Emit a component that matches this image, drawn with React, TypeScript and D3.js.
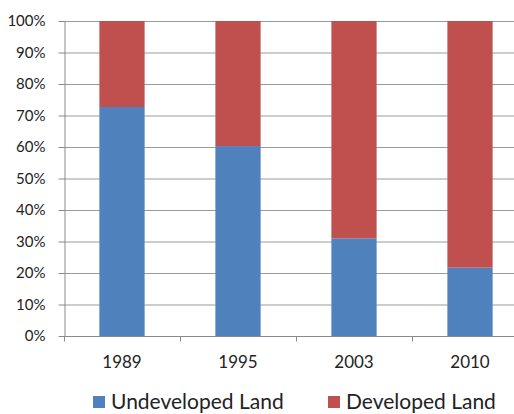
import { useEffect, useRef } from 'react';
import * as d3 from 'd3';

const YEARS = ['1989', '1995', '2003', '2010'];
const UNDEVELOPED = [72.7, 60.3, 31.0, 21.7];
const DEVELOPED = [27.3, 39.7, 69.0, 78.3];
const Y_TICKS = [0, 10, 20, 30, 40, 50, 60, 70, 80, 90, 100];
const SERIES_LABELS = ['Undeveloped Land', 'Developed Land'];

const WIDTH = 514;
const HEIGHT = 414;
const PLOT = { left: 64, right: 528, top: 21, bottom: 336 };
const COLOURS = ['#4F81BD', '#C0504D'];
const FONT = 'Lato, "Open Sans", sans-serif';

export default function App() {
  const svgRef = useRef<SVGSVGElement>(null);

  useEffect(() => {
    if (!svgRef.current) return;
    const svg = d3.select(svgRef.current);
    svg.selectAll('*').remove();

    const x = d3.scaleBand<string>()
      .domain(YEARS)
      .range([PLOT.left, PLOT.right])
      .paddingInner(0.61)
      .paddingOuter(0.305);

    const y = d3.scaleLinear()
      .domain([0, 100])
      .range([PLOT.bottom, PLOT.top]);

    // grid
    svg.append('g')
      .selectAll('line')
      .data(Y_TICKS.slice(1))
      .join('line')
      .attr('x1', PLOT.left)
      .attr('x2', WIDTH)
      .attr('y1', d => y(d) + 0.5)
      .attr('y2', d => y(d) + 0.5)
      .attr('stroke', '#9a9a9a')
      .attr('stroke-width', 1);

    // stacked bars
    const rows = YEARS.map((year, i) => ({ year, u: UNDEVELOPED[i], d: DEVELOPED[i] }));
    const stack = d3.stack<{ year: string; u: number; d: number }>().keys(['u', 'd']);
    const layers = stack(rows);

    layers.forEach((layer, li) => {
      svg.append('g')
        .selectAll('rect')
        .data(layer)
        .join('rect')
        .attr('x', d => x(d.data.year)!)
        .attr('width', x.bandwidth())
        .attr('y', d => y(d[1]))
        .attr('height', d => y(d[0]) - y(d[1]))
        .attr('fill', COLOURS[li]);
    });

    // y axis
    const yAxis = svg.append('g')
      .attr('transform', `translate(${PLOT.left + 0.5},0)`)
      .call(d3.axisLeft(y).tickValues(Y_TICKS).tickSize(6).tickSizeOuter(0).tickFormat(d => `${d}%`))
      .call(g => g.select('.domain').attr('stroke', '#8a8a8a'));
    yAxis.selectAll('.tick line').attr('stroke', '#8a8a8a');
    yAxis.selectAll('.tick text')
      .attr('x', -19)
      .attr('font-family', FONT)
      .attr('font-size', 15)
      .attr('fill', '#222');
    yAxis.selectAll('.tick').attr('transform', d => `translate(0,${y(d as number) + 0.5})`);

    // x axis
    const xAxis = svg.append('g')
      .attr('transform', `translate(0,${PLOT.bottom + 0.5})`);
    xAxis.append('line')
      .attr('x1', PLOT.left)
      .attr('x2', WIDTH)
      .attr('stroke', '#8a8a8a');
    const step = x.step();
    const tickXs = d3.range(YEARS.length + 1).map(i => PLOT.left + i * step);
    xAxis.selectAll('line.tk')
      .data(tickXs)
      .join('line')
      .attr('class', 'tk')
      .attr('x1', d => Math.round(d) + 0.5)
      .attr('x2', d => Math.round(d) + 0.5)
      .attr('y1', 0)
      .attr('y2', 5)
      .attr('stroke', '#8a8a8a');
    xAxis.selectAll('text')
      .data(YEARS)
      .join('text')
      .attr('x', d => x(d)! + x.bandwidth() / 2)
      .attr('y', 31)
      .attr('text-anchor', 'middle')
      .attr('font-family', FONT)
      .attr('font-size', 17)
      .attr('fill', '#222')
      .text(d => d);

    // legend
    const legendX = [93, 328];
    const legend = svg.append('g');
    SERIES_LABELS.forEach((label, i) => {
      legend.append('rect')
        .attr('x', legendX[i])
        .attr('y', 396)
        .attr('width', 12)
        .attr('height', 12)
        .attr('fill', COLOURS[i]);
      legend.append('text')
        .attr('x', legendX[i] + 18)
        .attr('y', 409)
        .attr('font-family', FONT)
        .attr('font-size', 21)
        .attr('fill', '#222')
        .text(label);
    });
  }, []);

  return (
    <svg
      ref={svgRef}
      width={WIDTH}
      height={HEIGHT}
      style={{ position: 'absolute', left: 0, top: 0, background: '#fff' }}
    />
  );
}
